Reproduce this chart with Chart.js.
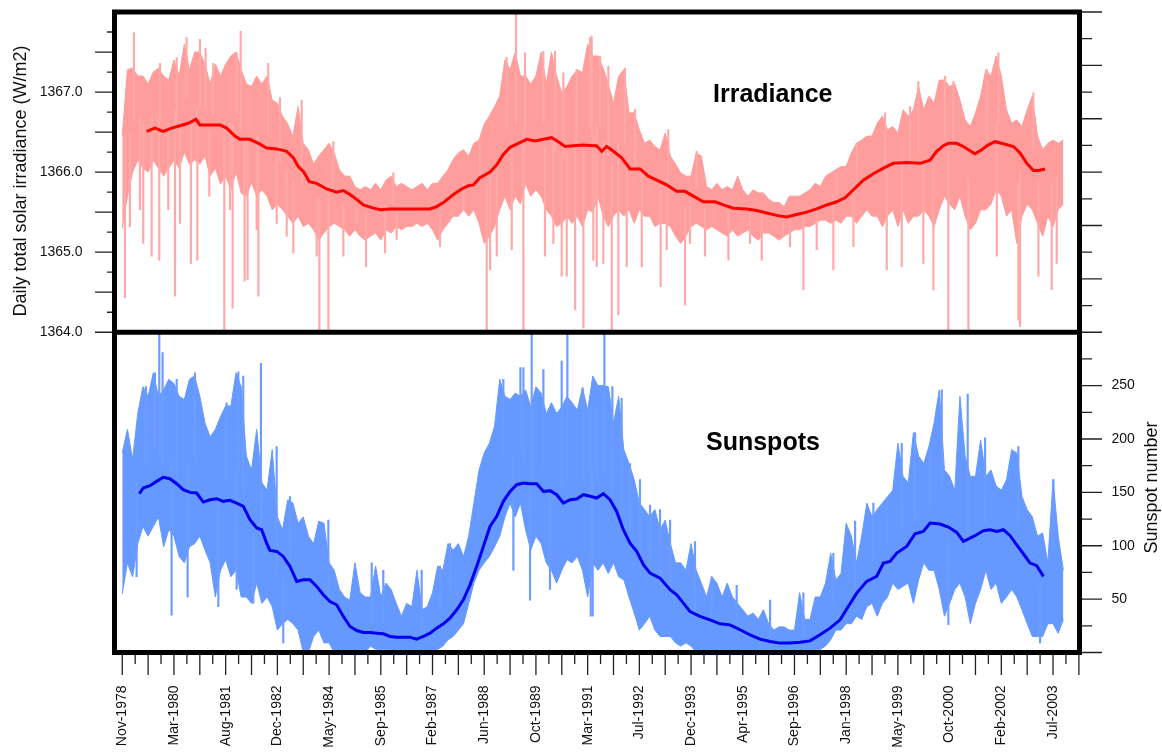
<!DOCTYPE html>
<html>
<head>
<meta charset="utf-8">
<title>Irradiance and sunspots</title>
<script src="https://cdn.jsdelivr.net/npm/chart.js@4.4.1/dist/chart.umd.min.js"></script>
<style>
  html, body { margin: 0; padding: 0; background: #fff; }
  #wrap { width: 1162px; height: 752px; position: relative; }
</style>
</head>
<body>
<div id="wrap"><canvas id="chart"></canvas></div>
<script>
// x is counted in days from the first tick (Nov-1978), ticks every 500 days
var xTickLabels = ['Nov-1978', 'Mar-1980', 'Aug-1981', 'Dec-1982', 'May-1984', 'Sep-1985', 'Feb-1987',
    'Jun-1988', 'Oct-1989', 'Mar-1991', 'Jul-1992', 'Dec-1993', 'Apr-1995', 'Sep-1996', 'Jan-1998',
    'May-1999', 'Oct-2000', 'Feb-2002', 'Jul-2003']
var irrTickLabels = [1364, 1365, 1366, 1367]
var sunTickLabels = [50, 100, 150, 200, 250]

// daily data, summarised as low / high per 50-day bin (bin 0 = day 0)
var BIN = 50
var irrHi = [
    1366.45, 1367.28, 1367.3, 1367.2, 1367.2, 1367.1, 1367.25, 1367.3, 1367.2, 1367.15,
    1367.4, 1367.2, 1367.6, 1367.28, 1367.5, 1367.5, 1367.35, 1367.1, 1367.35, 1367.2,
    1367.35, 1367.45, 1367.5, 1367.28, 1367.1, 1367.07, 1367.2, 1367.1, 1367.2, 1366.9,
    1366.86, 1366.7, 1366.6, 1366.45, 1366.82, 1366.36, 1366.28, 1366.1, 1366.2, 1366.28,
    1366.36, 1366.24, 1366.03, 1365.95, 1365.95, 1365.82, 1365.78, 1365.82, 1365.78, 1365.86,
    1365.78, 1365.9, 1365.95, 1365.82, 1365.86, 1365.82, 1365.78, 1365.82, 1365.86, 1365.78,
    1365.86, 1365.86, 1365.95, 1366.03, 1366.16, 1366.24, 1366.28, 1366.2, 1366.36, 1366.4,
    1366.6, 1366.7, 1366.82, 1366.95, 1367.4, 1367.28, 1367.5, 1367.2, 1367.2, 1367.1,
    1367.2, 1367.5, 1367.1, 1367.5, 1367.2, 1366.99, 1367.07, 1367.2, 1367.28, 1367.24,
    1367.6, 1367.45, 1367.45, 1367.3, 1367.1, 1366.86, 1367.2, 1367.28, 1366.74, 1366.74,
    1366.53, 1366.36, 1366.4, 1366.32, 1366.28, 1366.49, 1366.2, 1366.1, 1365.99, 1365.95,
    1365.95, 1366.24, 1366.2, 1365.82, 1365.78, 1365.86, 1365.78, 1365.82, 1365.78, 1365.95,
    1365.78, 1365.7, 1365.78, 1365.74, 1365.74, 1365.66, 1365.62, 1365.62, 1365.57, 1365.7,
    1365.7, 1365.7, 1365.74, 1365.78, 1365.86, 1365.82, 1365.95, 1365.99, 1366.03, 1366.07,
    1366.07, 1366.24, 1366.36, 1366.4, 1366.45, 1366.45, 1366.61, 1366.7, 1366.53, 1366.57,
    1366.49, 1366.78, 1366.7, 1366.78, 1367.07, 1366.78, 1366.95, 1366.86, 1367.15, 1367.15,
    1367.07, 1367.1, 1366.9, 1366.65, 1366.57, 1366.74, 1366.95, 1367.28, 1367.2, 1367.45,
    1367.2, 1366.78, 1366.61, 1366.65, 1366.57, 1366.78, 1366.95, 1366.45, 1366.28, 1366.36,
    1366.4, 1366.36, 1366.4
]
var irrLo = [
    1365.3, 1365.7, 1366.0, 1366.15, 1366.05, 1366.0, 1366.15, 1366.05, 1365.95, 1366.05,
    1366.15, 1366.05, 1366.25, 1366.1, 1366.15, 1366.1, 1366.2, 1365.95, 1366.05, 1365.85,
    1365.95, 1365.78, 1366.0, 1365.74, 1365.7, 1365.87, 1365.7, 1365.78, 1365.7, 1365.53,
    1365.6, 1365.53, 1365.45, 1365.36, 1365.45, 1365.32, 1365.36, 1365.28, 1365.15, 1365.24,
    1365.32, 1365.36, 1365.32, 1365.28, 1365.2, 1365.28, 1365.2, 1365.15, 1365.2, 1365.24,
    1365.15, 1365.28, 1365.24, 1365.32, 1365.28, 1365.32, 1365.32, 1365.36, 1365.32, 1365.36,
    1365.28, 1365.15, 1365.28, 1365.36, 1365.45, 1365.45, 1365.53, 1365.45, 1365.53, 1365.36,
    1365.11, 1365.2, 1365.32, 1365.53, 1365.7, 1365.53, 1365.7, 1365.6, 1365.86, 1365.7,
    1365.78, 1365.7, 1365.53, 1365.45, 1365.32, 1365.36, 1365.45, 1365.36, 1365.45, 1365.32,
    1365.53, 1365.5, 1365.7, 1365.45, 1365.32, 1365.45, 1365.53, 1365.45, 1365.53, 1365.36,
    1365.53, 1365.45, 1365.45, 1365.32, 1365.36, 1365.36, 1365.32, 1365.2, 1365.11, 1365.2,
    1365.32, 1365.36, 1365.32, 1365.28, 1365.32, 1365.28, 1365.24, 1365.2, 1365.28, 1365.2,
    1365.24, 1365.28, 1365.2, 1365.15, 1365.24, 1365.24, 1365.2, 1365.15, 1365.2, 1365.24,
    1365.28, 1365.28, 1365.32, 1365.32, 1365.36, 1365.4, 1365.4, 1365.36, 1365.4, 1365.36,
    1365.45, 1365.45, 1365.36, 1365.45, 1365.53, 1365.45, 1365.45, 1365.32, 1365.45, 1365.53,
    1365.32, 1365.53, 1365.36, 1365.45, 1365.45, 1365.53, 1365.45, 1365.32, 1365.53, 1365.7,
    1365.6, 1365.53, 1365.7, 1365.45, 1365.28, 1365.36, 1365.53, 1365.53, 1365.6, 1365.78,
    1365.7, 1365.45, 1365.53, 1365.11, 1365.45, 1365.6, 1365.53, 1365.36, 1365.2, 1365.45,
    1365.32, 1365.53, 1365.6
]
// single days that stick out of the band
var irrSpikeDay = [26, 113, 203, 284, 358, 510, 622, 664, 726, 751, 806, 987, 1067, 1145, 1183, 1212, 1316,
    1654, 1906, 1993, 2357, 2541, 3073, 3524, 3557, 3766, 3808, 3879, 4072, 4185, 4249, 4298, 4379, 4459,
    4523, 4539, 4588, 4620, 4652, 4733, 4797, 4861, 5023, 5206, 5442, 5861, 6183, 6457, 6586, 6876, 7392,
    7537, 7698, 7843, 7956, 7988, 8182, 8472, 8665, 8681, 8810, 8987,
    74, 171, 445, 558, 842, 1042, 1300, 1493, 1590, 1880, 2138, 2267, 2653, 3298, 3621, 4088, 4169, 4555,
    4878, 5264, 5490, 5635, 6070, 6393, 6715, 7070, 7746, 8456, 8859, 9036,
    365, 526, 880, 1106, 1412, 1525, 1735, 2041, 2621, 3459, 3717, 3895, 4265, 4394, 4700, 4958, 5280, 5554,
    6908, 7102, 7376, 7617, 8037, 8359]
var irrSpikeVal = [1364.43, 1367.74, 1365.11, 1364.95, 1364.9, 1364.45, 1367.68, 1364.86, 1364.9, 1367.66,
    1367.55, 1364.0, 1364.3, 1367.76, 1364.64, 1364.66, 1364.45, 1364.99, 1364.0, 1364.0, 1364.82, 1364.99,
    1365.07, 1364.0, 1364.78, 1365.03, 1367.97, 1364.0, 1367.51, 1367.51, 1364.7, 1364.7, 1364.28, 1364.05,
    1367.68, 1367.7, 1364.82, 1367.45, 1364.86, 1364.0, 1364.22, 1367.3, 1364.82, 1364.57, 1364.34, 1364.9,
    1364.9, 1365.07, 1364.53, 1364.78, 1364.78, 1364.82, 1367.13, 1364.53, 1367.2, 1364.0, 1364.0, 1367.49,
    1364.15, 1364.07, 1366.99, 1364.53,
    1365.32, 1365.53, 1365.53, 1365.36, 1365.7, 1365.53, 1365.28, 1365.36, 1365.2, 1364.95, 1364.95, 1365.36,
    1365.16, 1365.53, 1364.95, 1364.95, 1365.11, 1364.9, 1364.82, 1365.03, 1365.11, 1364.95, 1365.11, 1365.2,
    1365.03, 1365.07, 1364.86, 1364.95, 1364.7, 1364.86,
    1367.36, 1367.43, 1367.36, 1367.49, 1367.36, 1366.93, 1366.9, 1366.38, 1365.99, 1366.38, 1367.43, 1367.49,
    1367.24, 1367.28, 1367.32, 1366.78, 1366.53, 1366.26, 1365.99, 1366.36, 1366.74, 1366.82, 1367.13, 1367.28]
// running mean
var irrMeanDay = [236, 316, 397, 477, 558, 639, 713, 751, 848, 945, 1009, 1090, 1138, 1235, 1316, 1397, 1493,
    1590, 1654, 1702, 1751, 1809, 1880, 1976, 2073, 2138, 2202, 2267, 2331, 2428, 2499, 2589, 2686, 2782,
    2879, 2976, 3040, 3105, 3202, 3282, 3347, 3395, 3459, 3556, 3621, 3685, 3750, 3830, 3911, 3991, 4072,
    4152, 4217, 4281, 4362, 4459, 4555, 4587, 4636, 4684, 4749, 4829, 4910, 5007, 5087, 5168, 5264, 5361,
    5442, 5522, 5619, 5732, 5812, 5909, 6038, 6135, 6231, 6328, 6425, 6521, 6618, 6715, 6812, 6908, 6989,
    7070, 7166, 7263, 7360, 7456, 7585, 7714, 7811, 7875, 7940, 7988, 8069, 8133, 8182, 8246, 8311, 8375,
    8439, 8504, 8617, 8681, 8746, 8810, 8859, 8923]
var irrMeanVal = [1366.51, 1366.55, 1366.51, 1366.55, 1366.58, 1366.61, 1366.66, 1366.59, 1366.59, 1366.59,
    1366.55, 1366.45, 1366.41, 1366.41, 1366.36, 1366.30, 1366.29, 1366.26, 1366.18, 1366.07,
    1366.01, 1365.88, 1365.86, 1365.79, 1365.75, 1365.77, 1365.72, 1365.66, 1365.59, 1365.55,
    1365.53, 1365.54, 1365.54, 1365.54, 1365.54, 1365.54, 1365.57, 1365.62, 1365.72, 1365.79,
    1365.83, 1365.84, 1365.93, 1366.00, 1366.09, 1366.22, 1366.31, 1366.36, 1366.41, 1366.39,
    1366.41, 1366.43, 1366.38, 1366.32, 1366.33, 1366.34, 1366.33, 1366.33, 1366.26, 1366.32,
    1366.26, 1366.18, 1366.04, 1366.04, 1365.95, 1365.90, 1365.84, 1365.76, 1365.76, 1365.70,
    1365.63, 1365.63, 1365.59, 1365.55, 1365.54, 1365.52, 1365.49, 1365.46, 1365.44, 1365.47,
    1365.50, 1365.54, 1365.59, 1365.63, 1365.68, 1365.78, 1365.90, 1365.98, 1366.05, 1366.11,
    1366.12, 1366.11, 1366.15, 1366.26, 1366.33, 1366.36, 1366.36, 1366.32, 1366.28, 1366.23,
    1366.28, 1366.34, 1366.38, 1366.36, 1366.32, 1366.24, 1366.11, 1366.02, 1366.02, 1366.04]

var sunHi = [
    187, 209, 181, 224, 249, 240, 262, 240, 246, 256,
    252, 240, 237, 256, 259, 240, 215, 202, 209, 221,
    231, 231, 262, 249, 184, 171, 209, 159, 152, 190,
    127, 115, 143, 140, 121, 127, 109, 102, 123, 121,
    84, 77, 59, 52, 49, 84, 56, 52, 52, 81,
    52, 65, 59, 46, 34, 46, 43, 77, 40, 43,
    56, 81, 77, 102, 96, 102, 90, 109, 140, 171,
    187, 196, 212, 256, 240, 237, 243, 240, 246, 230,
    249, 243, 224, 234, 224, 230, 240, 234, 227, 248,
    227, 259, 250, 250, 249, 215, 240, 190, 177, 162,
    140, 134, 127, 134, 115, 124, 102, 84, 84, 77,
    102, 77, 65, 52, 71, 65, 52, 65, 52, 46,
    40, 34, 37, 31, 40, 27, 21, 24, 24, 21,
    21, 56, 31, 31, 52, 52, 65, 93, 68, 74,
    121, 109, 84, 109, 140, 127, 134, 140, 146, 152,
    196, 165, 159, 206, 184, 177, 193, 215, 246, 171,
    165, 152, 240, 184, 165, 165, 199, 165, 171, 156,
    152, 162, 190, 187, 146, 134, 127, 109, 112, 84,
    162, 109, 77
]
var sunLo = [
    55, 84, 71, 102, 118, 109, 118, 127, 99, 115,
    109, 90, 84, 99, 102, 109, 96, 84, 52, 77,
    87, 71, 77, 52, 52, 46, 65, 46, 52, 43,
    21, 27, 31, 27, 21, 0, 0, 15, 21, 9,
    9, 0, 0, 0, 0, 0, 0, 0, 6, 3,
    3, 3, 2, 2, 2, 0, 0, 0, 0, 0,
    0, 3, 6, 12, 15, 21, 27, 46, 65, 77,
    84, 90, 99, 109, 127, 140, 127, 140, 115, 96,
    109, 102, 84, 77, 65, 77, 87, 84, 90, 77,
    52, 84, 77, 84, 74, 84, 71, 68, 52, 37,
    21, 27, 34, 21, 15, 15, 15, 9, 6, 9,
    6, 0, 0, 0, 0, 0, 0, 0, 0, 0,
    0, 0, 0, 0, 0, 0, 0, 0, 0, 0,
    0, 0, 0, 0, 0, 3, 6, 12, 21, 21,
    27, 27, 34, 31, 43, 46, 34, 46, 52, 65,
    59, 62, 65, 46, 68, 84, 77, 77, 59, 34,
    46, 59, 65, 52, 27, 46, 59, 77, 59, 65,
    46, 52, 59, 52, 40, 27, 15, 15, 15, 27,
    27, 18, 31
]
var sunSpikeDay = [229, 358, 477, 703, 929, 1122, 1341, 1557, 3850, 3959, 4136, 4249, 4304, 4452, 4549,
    4662, 4739, 4829, 7537, 7924, 8175, 9004,
    316, 390, 526, 1009, 1170, 1493, 1622, 1993, 2412, 2524, 2895, 3072, 3169, 3443, 3685, 3879, 4072, 4523,
    4587, 4910, 5006, 5103, 5200, 5297, 5538, 5700, 5941, 6264, 6586, 6876, 7086, 7263, 7392, 7666, 7811,
    8343, 8665,
    139, 632, 1106, 1267, 3782, 3943, 4530, 7988, 8875]
var sunSpikeVal = [249, 300, 35, 262, 43, 263, 271, 9, 267, 300, 59, 273, 300, 248, 34,
    300, 249, 238, 196, 246, 242, 162,
    262, 281, 256, 234, 259, 193, 146, 124, 84, 77, 77, 81, 102, 156, 256, 267, 265, 227,
    227, 177, 162, 138, 134, 124, 104, 71, 63, 49, 56, 93, 123, 140, 145, 206, 193,
    201, 193,
    71, 52, 59, 46, 77, 49, 34, 26, 9]
var sunMeanDay = [165, 203, 268, 332, 397, 461, 526, 590, 655, 719, 784, 848, 913, 977, 1042, 1106, 1171,
    1235, 1300, 1348, 1396, 1428, 1493, 1557, 1622, 1687, 1751, 1815, 1880, 1944, 2009, 2073, 2138, 2202,
    2267, 2331, 2396, 2460, 2525, 2589, 2654, 2718, 2782, 2847, 2911, 2976, 3040, 3105, 3169, 3234, 3298,
    3363, 3427, 3492, 3556, 3621, 3685, 3750, 3814, 3879, 3943, 4008, 4072, 4137, 4201, 4265, 4330, 4394,
    4459, 4523, 4587, 4652, 4716, 4781, 4845, 4910, 4974, 5039, 5103, 5200, 5297, 5361, 5426, 5490, 5587,
    5683, 5780, 5877, 5974, 6070, 6167, 6264, 6360, 6457, 6554, 6650, 6747, 6844, 6941, 7037, 7102, 7198,
    7295, 7360, 7424, 7489, 7585, 7666, 7746, 7811, 7907, 7988, 8069, 8133, 8198, 8262, 8327, 8391, 8456,
    8520, 8585, 8649, 8713, 8778, 8842, 8907]
var sunMeanVal = [148.8, 154.1, 156.3, 160.3, 164.1, 162.8, 158.1, 152.5, 150.0, 149.4,
    140.9, 143.1, 144.1, 141.6, 142.5, 140.0, 136.9, 124.4, 116.6, 115.0,
    102.5, 95.6, 94.7, 90.0, 80.6, 66.6, 68.1, 68.1, 61.9, 54.1,
    47.8, 44.7, 33.8, 24.4, 20.6, 18.8, 18.8, 18.1, 17.5, 15.0,
    14.4, 14.4, 14.4, 12.5, 15.0, 18.1, 22.8, 26.9, 32.2, 40.0,
    49.4, 63.4, 80.6, 99.4, 118.1, 127.5, 141.6, 150.9, 157.2, 158.8,
    158.1, 158.1, 150.9, 151.6, 147.8, 140.0, 143.1, 143.8, 147.8, 146.3,
    144.7, 148.8, 143.1, 132.2, 115.0, 102.5, 94.7, 82.2, 74.4, 69.7,
    58.8, 54.1, 46.3, 38.4, 33.8, 30.6, 26.9, 25.9, 21.3, 16.6,
    12.5, 10.3, 8.8, 8.8, 9.7, 10.9, 16.6, 22.8, 30.6, 45.6,
    55.6, 66.6, 71.3, 83.8, 85.3, 93.1, 99.4, 111.3, 113.4, 121.3,
    120.3, 117.5, 112.5, 104.1, 107.2, 110.3, 114.1, 115.0, 113.4, 115.0,
    109.4, 100.9, 92.5, 83.8, 81.3, 71.3]

var FONT = "'Liberation Sans', Arial, sans-serif"

function binned(vals) {
    return vals.map(function (v, i) { return { x: i * BIN, y: v } })
}
// spike drawn from the middle of its bin out to the single-day value
function spikes(days, vals, lo, hi) {
    return days.map(function (d, i) {
        var k = Math.min(lo.length - 1, Math.round(d / BIN))
        return { x: d, y: [(lo[k] + hi[k]) / 2, vals[i]] }
    })
}
function line(days, vals) {
    return days.map(function (d, i) { return { x: d, y: vals[i] } })
}
// fixed axis sizes, no extra label padding around the plot
function fixSize(w, h) {
    return function (s) {
        if (w != null) s.width = w
        if (h != null) s.height = h
        s.paddingTop = 0
        s.paddingBottom = 0
        s.paddingLeft = 0
        s.paddingRight = 0
    }
}

// box, tick marks, rotated axis titles and panel names
var framePlugin = {
    id: 'frame',
    afterDatasetsDraw: function (chart) {
        var ctx = chart.ctx
        var a = chart.chartArea
        var sx = chart.scales.x, yi = chart.scales.yIrr, ys = chart.scales.ySun
        var mid = ys.getPixelForValue(300)
        ctx.save()

        ctx.strokeStyle = '#222'
        ctx.lineWidth = 1.3
        ctx.beginPath()
        for (var d = 0; d <= sx.max; d += 125) {
            var px = sx.getPixelForValue(d)
            var len = d % 250 === 0 ? 20 : 9
            ctx.moveTo(px, a.bottom + 2.5)
            ctx.lineTo(px, a.bottom + 2.5 + len)
        }
        for (var v = 1364; v < 1368; v += 0.25) {
            var py = yi.getPixelForValue(v)
            var l = (v * 2) % 1 === 0 ? 17 : 5
            ctx.moveTo(a.left - 2.5, py)
            ctx.lineTo(a.left - 2.5 - l, py)
        }
        for (var s = 0; s <= 600; s += 25) {
            var qy = ys.getPixelForValue(s)
            var m = s % 50 === 0 ? 20 : 10
            ctx.moveTo(a.right + 2.5, qy)
            ctx.lineTo(a.right + 2.5 + m, qy)
        }
        ctx.stroke()

        ctx.strokeStyle = '#000'
        ctx.lineWidth = 5
        ctx.strokeRect(a.left, a.top, a.right - a.left, a.bottom - a.top)
        ctx.beginPath()
        ctx.moveTo(a.left, mid)
        ctx.lineTo(a.right, mid)
        ctx.stroke()

        ctx.fillStyle = '#111'
        ctx.font = '18px ' + FONT
        ctx.textAlign = 'center'
        ctx.textBaseline = 'alphabetic'
        ctx.save()
        ctx.translate(26, 181)
        ctx.rotate(-Math.PI / 2)
        ctx.fillText('Daily total solar irradiance (W/m2)', 0, 0)
        ctx.restore()
        ctx.save()
        ctx.translate(1156.5, 487.5)
        ctx.rotate(-Math.PI / 2)
        ctx.fillText('Sunspot number', 0, 0)
        ctx.restore()

        ctx.fillStyle = '#000'
        ctx.font = 'bold 25px ' + FONT
        ctx.textAlign = 'left'
        ctx.fillText('Irradiance', 713, 102)
        ctx.fillText('Sunspots', 706, 450)
        ctx.restore()
    }
}

var PINK = '#ff9c9c'
var LIGHTBLUE = '#6699ff'

new Chart(document.getElementById('chart'), {
    type: 'bar',
    data: {
        datasets: [
            {
                type: 'line', label: 'Irradiance mean', yAxisID: 'yIrr', order: 0,
                data: line(irrMeanDay, irrMeanVal),
                borderColor: '#ff0000', borderWidth: 3, pointRadius: 0, tension: 0
            },
            {
                type: 'line', label: 'Sunspot mean', yAxisID: 'ySun', order: 0,
                data: line(sunMeanDay, sunMeanVal),
                borderColor: '#0000f0', borderWidth: 3, pointRadius: 0, tension: 0
            },
            {
                label: 'Irradiance spikes', yAxisID: 'yIrr', order: 1, grouped: false,
                data: spikes(irrSpikeDay, irrSpikeVal, irrLo, irrHi),
                backgroundColor: '#ffa8a8', barThickness: 1.5
            },
            {
                label: 'Sunspot spikes', yAxisID: 'ySun', order: 1, grouped: false,
                data: spikes(sunSpikeDay, sunSpikeVal, sunLo, sunHi),
                backgroundColor: '#6c9cff', barThickness: 1.5
            },
            {
                type: 'line', label: 'Irradiance daily low', yAxisID: 'yIrr', order: 2,
                data: binned(irrLo), borderColor: PINK, borderWidth: 1, pointRadius: 0, tension: 0
            },
            {
                type: 'line', label: 'Irradiance daily high', yAxisID: 'yIrr', order: 2,
                data: binned(irrHi), borderColor: PINK, borderWidth: 1, pointRadius: 0, tension: 0,
                fill: '-1', backgroundColor: PINK
            },
            {
                type: 'line', label: 'Sunspots daily low', yAxisID: 'ySun', order: 2,
                data: binned(sunLo), borderColor: LIGHTBLUE, borderWidth: 1, pointRadius: 0, tension: 0
            },
            {
                type: 'line', label: 'Sunspots daily high', yAxisID: 'ySun', order: 2,
                data: binned(sunHi), borderColor: LIGHTBLUE, borderWidth: 1, pointRadius: 0, tension: 0,
                fill: '-1', backgroundColor: LIGHTBLUE
            }
        ]
    },
    options: {
        responsive: true,
        maintainAspectRatio: false,
        animation: false,
        layout: { padding: { top: 12, left: 0, right: 0, bottom: 0 } },
        plugins: {
            legend: { display: false },
            tooltip: { enabled: false }
        },
        scales: {
            x: {
                type: 'linear', min: -75, max: 9256, offset: false,
                afterBuildTicks: function (s) {
                    s.ticks = xTickLabels.map(function (l, i) { return { value: i * 500 } })
                },
                afterFit: fixSize(null, 99.5),
                grid: { display: false, drawTicks: false },
                border: { display: false },
                ticks: {
                    autoSkip: false, maxRotation: 90, minRotation: 90, padding: 33,
                    color: '#111', font: { size: 14, family: FONT },
                    callback: function (v) { return xTickLabels[Math.round(v / 500)] }
                }
            },
            yIrr: {
                type: 'linear', position: 'left', min: 1360, max: 1368,
                afterBuildTicks: function (s) {
                    s.ticks = irrTickLabels.map(function (v) { return { value: v } })
                },
                afterFit: fixSize(114.5, null),
                grid: { display: false, drawTicks: false },
                border: { display: false },
                ticks: {
                    padding: 32, color: '#111', font: { size: 14, family: FONT },
                    callback: function (v) { return v.toFixed(1) }
                }
            },
            ySun: {
                type: 'linear', position: 'right', min: 0, max: 600,
                afterBuildTicks: function (s) {
                    s.ticks = sunTickLabels.map(function (v) { return { value: v } })
                },
                afterFit: fixSize(82.5, null),
                grid: { display: false, drawTicks: false },
                border: { display: false },
                ticks: {
                    padding: 32, color: '#111', font: { size: 14, family: FONT },
                    callback: function (v) { return String(v) }
                }
            }
        }
    },
    plugins: [framePlugin]
})
</script>
</body>
</html>
